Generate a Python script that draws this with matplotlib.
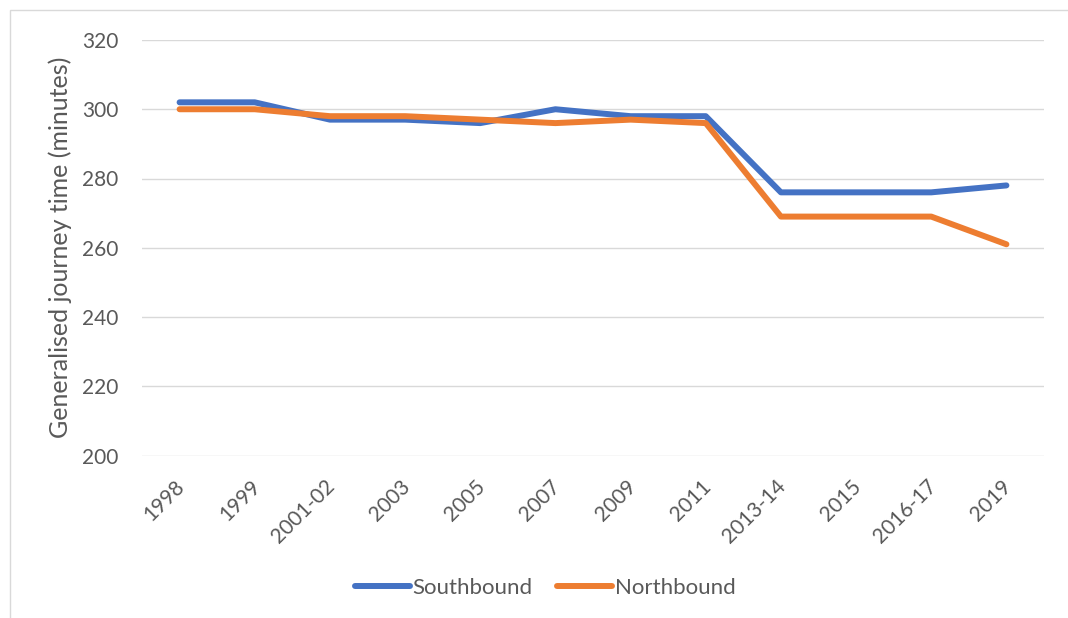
import matplotlib
matplotlib.use("Agg")
import matplotlib.pyplot as plt
from matplotlib.patches import Rectangle
from matplotlib.transforms import ScaledTranslation

categories = ["1998", "1999", "2001-02", "2003", "2005", "2007", "2009",
              "2011", "2013-14", "2015", "2016-17", "2019"]
southbound = [302, 302, 297, 297, 296, 300, 298, 298, 276, 276, 276, 278]
northbound = [300, 300, 298, 298, 297, 296, 297, 296, 269, 269, 269, 261]
y_ticks = [200, 220, 240, 260, 280, 300, 320]

W, H = 1068, 618
fig = plt.figure(figsize=(W / 100, H / 100), dpi=100)
plt.rcParams["font.family"] = ["Lato", "DejaVu Sans"]
text_color = "#595959"
grid_color = "#d9d9d9"

# chart frame (light border around the chart area)
fig.patches.append(Rectangle((10 / W, -0.1), 1.2, 1 - 10 / H + 0.1,
                             transform=fig.transFigure, fill=False,
                             edgecolor=grid_color, linewidth=1.0))

left, right = 142 / W, 1044 / W
top, bottom = 1 - 40 / H, 1 - 455.5 / H
ax = fig.add_axes([left, bottom, right - left, top - bottom])

lw = 4.3
x = list(range(len(categories)))
ax.plot(x, southbound, color="#4472C4", linewidth=lw,
        solid_capstyle="round", solid_joinstyle="round", label="Southbound", zorder=3)
ax.plot(x, northbound, color="#ED7D31", linewidth=lw,
        solid_capstyle="round", solid_joinstyle="round", label="Northbound", zorder=3)

ax.set_xlim(-0.5, len(categories) - 0.5)
ax.set_ylim(200, 320)
ax.set_yticks(y_ticks)
ax.set_xticks(x)
ax.set_xticklabels(categories, rotation=45, ha="right", va="top",
                   rotation_mode="anchor")
ax.tick_params(axis="both", length=0, colors=text_color, labelsize=15)
ax.tick_params(axis="y", pad=17)
ax.tick_params(axis="x", pad=15)
shift = ScaledTranslation(-5 / 100, 0, fig.dpi_scale_trans)
for lbl in ax.get_xticklabels():
    lbl.set_transform(lbl.get_transform() + shift)
for s in ax.spines.values():
    s.set_visible(False)
ax.grid(axis="y", color=grid_color, linewidth=1.0)
ax.set_axisbelow(True)
ax.set_ylabel("Generalised journey time (minutes)", color=text_color,
              fontsize=18)
ax.yaxis.set_label_coords((72 - 142) / (1044 - 142), 0.5)

fig.legend(loc="center", bbox_to_anchor=(545 / W, 1 - 588 / H), ncol=2,
           frameon=False, fontsize=16, labelcolor=text_color,
           handlelength=2.5, handletextpad=0.1, columnspacing=1.1)

fig.savefig("out.png", dpi=100)
